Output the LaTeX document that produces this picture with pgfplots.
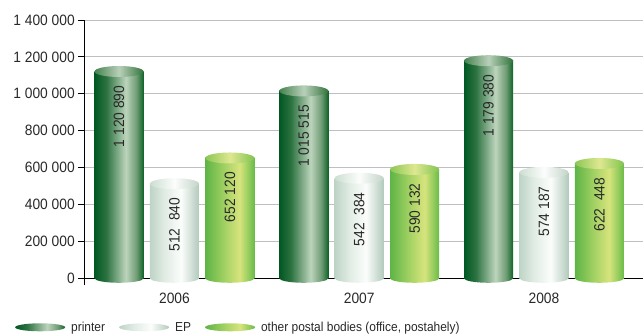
\documentclass[border=0pt]{standalone}
\usepackage{fontspec}
\setmainfont{Liberation Sans}[FakeStretch=0.92]
\usepackage{pgfplots}
\pgfplotsset{compat=1.18}
\usetikzlibrary{shapes.geometric}

\definecolor{pA}{RGB}{0,88,35}
\definecolor{pB}{RGB}{45,115,65}
\definecolor{pC}{RGB}{188,212,188}
\definecolor{pD}{RGB}{110,155,115}
\definecolor{pE}{RGB}{15,100,40}
\definecolor{eA}{RGB}{190,212,198}
\definecolor{eB}{RGB}{225,236,228}
\definecolor{eC}{RGB}{251,253,251}
\definecolor{eD}{RGB}{178,202,188}
\definecolor{oA}{RGB}{95,180,70}
\definecolor{oB}{RGB}{165,210,100}
\definecolor{oC}{RGB}{215,228,125}
\definecolor{oD}{RGB}{105,188,72}
\definecolor{ptA}{RGB}{70,130,80}
\definecolor{ptB}{RGB}{185,208,185}
\definecolor{ptC}{RGB}{50,115,60}
\definecolor{etA}{RGB}{205,222,210}
\definecolor{etB}{RGB}{252,253,252}
\definecolor{etC}{RGB}{195,212,200}
\definecolor{otA}{RGB}{140,198,85}
\definecolor{otB}{RGB}{222,232,145}
\definecolor{otC}{RGB}{130,196,80}
\definecolor{labc}{RGB}{40,40,40}
\definecolor{gridc}{RGB}{190,190,195}

\pgfdeclarehorizontalshading{printer}{100bp}{color(0bp)=(pA); color(25bp)=(pA); color(37bp)=(pB); color(57bp)=(pC); color(68bp)=(pD); color(75bp)=(pE); color(100bp)=(pE)}
\pgfdeclarehorizontalshading{ep}{100bp}{color(0bp)=(eA); color(25bp)=(eA); color(40bp)=(eB); color(57bp)=(eC); color(75bp)=(eD); color(100bp)=(eD)}
\pgfdeclarehorizontalshading{other}{100bp}{color(0bp)=(oA); color(25bp)=(oA); color(45bp)=(oB); color(60bp)=(oC); color(75bp)=(oD); color(100bp)=(oD)}
\pgfdeclarehorizontalshading{printertop}{100bp}{color(0bp)=(ptA); color(25bp)=(ptA); color(50bp)=(ptB); color(75bp)=(ptC); color(100bp)=(ptC)}
\pgfdeclarehorizontalshading{eptop}{100bp}{color(0bp)=(etA); color(25bp)=(etA); color(50bp)=(etB); color(75bp)=(etC); color(100bp)=(etC)}
\pgfdeclarehorizontalshading{othertop}{100bp}{color(0bp)=(otA); color(25bp)=(otA); color(50bp)=(otB); color(75bp)=(otC); color(100bp)=(otC)}

\pgfplotsset{
  ell/.style 2 args={forget plot, draw=none, mark=none, nodes near coords={},
    every node near coord/.append style={ellipse, anchor=center, inner sep=0pt,
      minimum width=49pt, minimum height=#1, shade, shading=#2, draw=none}},
  lab/.style={forget plot, draw=none, mark=none, point meta=explicit symbolic,
    nodes near coords,
    every node near coord/.append style={rotate=90, anchor=east, xshift=-14pt,
      inner sep=0pt, text=labc, font=\fontsize{15}{17}\selectfont}},
  cyl/.style={ybar, bar width=0.265, draw=none, shade, shading=#1,
    legend image code/.code={\shade[shading=#1] (25pt,0pt) ellipse [x radius=25pt, y radius=4pt]; \path (54pt,0pt);}},
}

\begin{document}
\begin{tikzpicture}
\begin{axis}[
  name=ax, set layers, scale only axis,
  width=558.7pt, height=258.3pt,
  xmin=-0.488, xmax=2.536, ymin=0, ymax=1400000,
  axis lines=left,
  axis line style={-, black, line width=1.1pt},
  y axis line style={shorten <=-7pt},
  clip=false, clip marker paths=true,
  xtick={0,1,2}, xticklabels={2006,2007,2008},
  ytick={0,200000,400000,600000,800000,1000000,1200000,1400000},
  yticklabels={0,200 000,400 000,600 000,800 000,1 000 000,1 200 000,1 400 000},
  scaled y ticks=false,
  tick align=outside, major tick length=6pt,
  xtick style={draw=none},
  ytick style={black, line width=0.8pt},
  ymajorgrids, grid style={gridc, line width=0.8pt},
  tick label style={font=\fontsize{15}{17}\selectfont, text=labc},
  xticklabel style={yshift=-5pt},
  legend columns=3,
  legend style={at={(0,0)}, anchor=west, xshift=-69.3pt, yshift=-49pt,
    draw=none, fill=none, inner sep=0pt, font=\fontsize{13}{14}\selectfont,
    text=labc, /tikz/every even column/.append style={column sep=12pt}},
  legend cell align=left,
]
% bottom ellipses
\addplot[ell={9pt}{printer}] coordinates {(-0.3,0) (0.7,0) (1.7,0)};
\addplot[ell={9pt}{ep}] coordinates {(0,0) (1,0) (2,0)};
\addplot[ell={9pt}{other}] coordinates {(0.3,0) (1.3,0) (2.3,0)};
% bars, one path per bar
\addplot[cyl=printer] coordinates {(-0.3,1120890)};
\addlegendentry{printer}
\addplot[cyl=ep] coordinates {(0,512840)};
\addlegendentry{EP}
\addplot[cyl=other] coordinates {(0.3,652120)};
\addlegendentry{other postal bodies (office, postahely)}
\addplot[cyl=printer, forget plot] coordinates {(0.7,1015515)};
\addplot[cyl=ep, forget plot] coordinates {(1,542384)};
\addplot[cyl=other, forget plot] coordinates {(1.3,590132)};
\addplot[cyl=printer, forget plot] coordinates {(1.7,1179380)};
\addplot[cyl=ep, forget plot] coordinates {(2,574187)};
\addplot[cyl=other, forget plot] coordinates {(2.3,622448)};
% top ellipses
\addplot[ell={11pt}{printertop}] coordinates {(-0.3,1120890) (0.7,1015515) (1.7,1179380)};
\addplot[ell={11pt}{eptop}] coordinates {(0,512840) (1,542384) (2,574187)};
\addplot[ell={11pt}{othertop}] coordinates {(0.3,652120) (1.3,590132) (2.3,622448)};
% labels
\addplot[lab] coordinates {(-0.3,1120890) [1 120 890] (0.7,1015515) [1 015 515] (1.7,1179380) [1 179 380]};
\addplot[lab] coordinates {(0,512840) [512\ \ 840] (1,542384) [542\ \ 384] (2,574187) [574 187]};
\addplot[lab] coordinates {(0.3,652120) [652 120] (1.3,590132) [590 132] (2.3,622448) [622\ \ 448]};
\end{axis}
\pgfresetboundingbox
\path[use as bounding box] ([xshift=-84.3pt,yshift=-57.7pt]ax.south west) rectangle ([yshift=20pt]ax.north east);
\end{tikzpicture}
\end{document}
